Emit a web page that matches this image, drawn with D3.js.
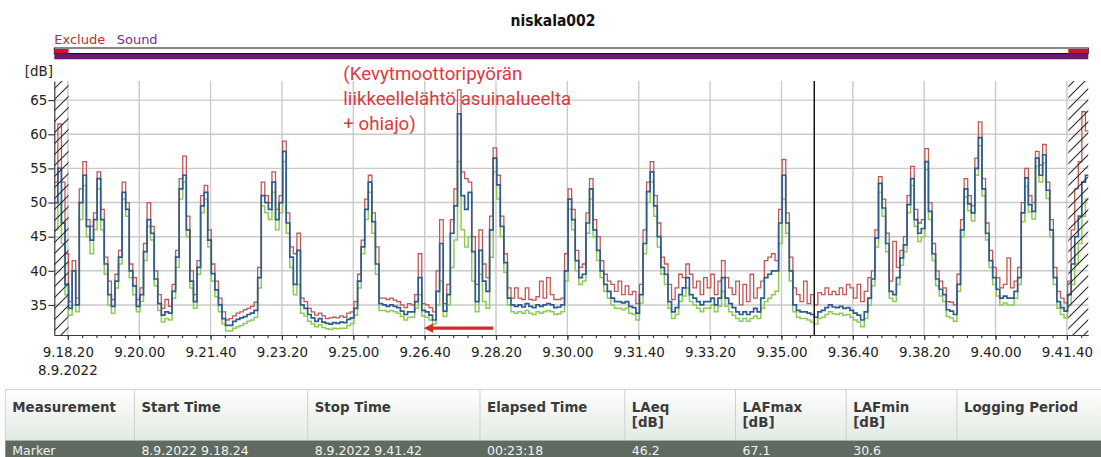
<!DOCTYPE html>
<html>
<head>
<meta charset="utf-8">
<script src="https://cdn.jsdelivr.net/npm/d3@7/dist/d3.min.js"></script>
<style>
    body { margin: 0; background: #fff; }
    svg { display: block; font-family: "DejaVu Sans", Verdana, sans-serif; }
</style>
</head>
<body>
<svg id="chart" width="1101" height="457"></svg>
<script>
// ---- data ----
var chartTitle = 'niskala002';
var timeDomain = ['9.18.01', '9.42.10'];
var levelDomain = [30.6, 67.8];
var levelTicks = [35, 40, 45, 50, 55, 60, 65];
var timeTickLabels = ['9.18.20', '9.20.00', '9.21.40', '9.23.20', '9.25.00', '9.26.40', '9.28.20', '9.30.00',
    '9.31.40', '9.33.20', '9.35.00', '9.36.40', '9.38.20', '9.40.00', '9.41.40'];
var dateLabel = '8.9.2022';
var excludePeriods = [['9.18.01', '9.18.21'], ['9.41.42', '9.42.10']];
var cursorTime = '9.35.46';

// samples every 5 s starting at sampleStart
var sampleStart = '9.18.01';
var sampleStep = 5;

var laeq = [
    50, 55, 47, 38, 34.5, 40, 35, 50, 54, 46.5,
    44.5, 47.5, 53.5, 47.5, 41, 36.5, 34.8, 38.5, 42, 51.5,
    49, 40, 37.8, 34.8, 36.5, 42.8, 47.5, 45.5, 38.8, 35.2,
    33.5, 34, 33.8, 37, 42, 52, 54, 46, 38.5, 35.5,
    40.5, 49.5, 51.5, 44.5, 39.6, 37.2, 35, 33, 32, 32,
    32.6, 32.9, 33.1, 33.3, 33.6, 33.8, 34.2, 39, 51, 50,
    49, 53, 47.5, 50, 57.5, 47, 42, 38, 43, 35,
    34.5, 33.6, 33.1, 32.6, 33, 32.5, 32.3, 32.2, 32.4, 32.3,
    32.5, 32.4, 32.9, 33.1, 34.5, 38.5, 43.5, 49, 53, 47.2,
    41, 35.2, 35, 34.8, 35, 34.8, 34.6, 34.1, 33.6, 34,
    34, 35.5, 39, 34.2, 34, 33.5, 32.8, 37, 44, 34.1,
    36.5, 45.5, 49.5, 63, 51, 49, 51.5, 42.8, 35.5, 43,
    38.5, 37, 46, 56.5, 52.6, 46.5, 41.2, 36, 35, 34.8,
    35, 34.7, 35.2, 34.8, 34.6, 35, 34.8, 35, 35.2, 35,
    34.6, 34.7, 35, 40, 50.5, 47.5, 41.5, 39, 39.5, 47,
    52, 46, 43, 40, 38, 37, 36, 35.5, 35.5, 35.3,
    35.5, 34.8, 34.6, 33.8, 36.5, 44, 51.6, 54.5, 49.5, 45,
    40.5, 39.5, 35.5, 34, 34.6, 36.5, 37.5, 39, 36.5, 36,
    35.5, 35, 35.5, 35.5, 36, 35, 36, 39, 36, 35.2,
    34.6, 34, 33.6, 34, 33.6, 34, 34.5, 34, 36, 39,
    39.5, 40, 40, 47, 54, 47, 40, 35, 34.2, 34,
    34, 33.8, 33.6, 33.2, 34, 34.2, 34.6, 35, 34.7, 34.6,
    34.8, 34.5, 34.6, 34.2, 33.8, 33.5, 32.8, 34, 36, 38.8,
    44.8, 52.8, 49.2, 44, 37, 36.5, 39, 41.9, 43.8, 49.7,
    53.5, 47.5, 45.5, 46.2, 56, 48.7, 42.5, 38.8, 37.3, 36.5,
    34.3, 34.1, 33.6, 38, 46, 52, 49.8, 48.5, 55, 59.5,
    52, 45.5, 41.5, 39, 37.3, 36, 36.3, 36, 36, 37,
    39, 48.5, 53.6, 49.7, 48.7, 56.5, 54, 57, 51.8, 46,
    39, 35.5, 34.6, 34.1, 36.5, 41, 45, 48, 53, 54
];

var lafmax = [
    53, 61.5, 53, 42.5, 35.5, 41.5, 36, 52, 56, 47.5,
    46.5, 48.5, 54.5, 49, 42, 38.5, 35.8, 39.5, 43, 53,
    50, 41, 39, 35.8, 37.5, 44, 50, 46.5, 40, 36.5,
    34.5, 35.8, 34.8, 38, 43, 53.5, 56.8, 48, 40, 36.5,
    41.5, 51, 52.5, 46, 41, 38.5, 36, 34, 32.8, 33,
    33.4, 33.8, 34, 34.3, 34.5, 34.8, 35.4, 40.5, 53, 51,
    50, 54.5, 49, 51, 59, 48.5, 43.5, 42.5, 45.5, 36,
    35.5, 34.5, 34, 33.5, 33.8, 33.4, 33, 33.1, 33.2, 33.1,
    33.4, 33.2, 33.8, 34, 35.5, 39.5, 44.5, 50.5, 54, 48.5,
    43.5, 36, 36, 35.8, 36, 35.7, 35.5, 35, 34.6, 35.2,
    35, 36.5, 42.5, 35.2, 35, 34.6, 34, 40, 47.5, 35.2,
    38, 47.5, 52, 66.5, 54.5, 53.5, 53, 45, 38, 46,
    41, 39, 48, 58, 54, 48, 42.5, 37.5, 36, 37.5,
    36, 35.8, 37.5, 35.8, 35.7, 36.2, 38.5, 36, 39, 36.5,
    35.8, 35.8, 36, 42.5, 52, 49, 43, 40.5, 41, 48.5,
    53.5, 47.5, 45, 41.5, 39.5, 38.5, 38, 37, 38.5, 36.5,
    37.8, 36.5, 37, 35.2, 38, 46, 53, 56, 51, 47,
    42, 41, 38, 35.8, 37.5, 39.5, 39, 41, 39.5, 37.5,
    38.5, 36.5, 39, 37.5, 39.5, 36.5, 38.5, 41.5, 39, 37.5,
    36.5, 38.5, 35, 38, 35.5, 39.5, 36, 37.5, 38.5, 41.5,
    42, 42.5, 41.5, 49, 56.3, 48.5, 42, 37.5, 36.5, 35.5,
    38.5, 35.2, 36.5, 35, 36.8, 36.5, 37.5, 36.5, 37, 36.5,
    37.5, 36.5, 38, 37.5, 36, 38, 35.5, 37, 39, 40,
    46, 53.8, 50.5, 45.5, 38.5, 44.3, 40.5, 43, 45, 51,
    55.3, 49, 47, 47.5, 57.9, 50, 44, 40, 38.5, 37.5,
    35.5, 35.4, 35, 39.5, 47.5, 53.5, 51, 49.5, 56.5, 61.8,
    53.5, 47, 43, 40.5, 39, 37.5, 38, 41.9, 37.5, 38.5,
    40.5, 50, 55, 51, 50, 57.5, 55.5, 58.5, 53, 47.5,
    40.5, 37, 36, 35.3, 38.5, 46, 52, 56, 63.3, 60.5
];

var lafmin = [
    46, 50, 44, 36.5, 33.5, 35, 34, 47.5, 52.5, 45,
    42.5, 46, 52, 46, 39.5, 35, 33.8, 37.5, 41, 50.5,
    48, 39, 36.5, 34, 35.5, 41.5, 46.5, 44.5, 37.8, 34.2,
    32.5, 33, 32.8, 36, 40.5, 50.5, 53, 45, 37.5, 34.5,
    39.5, 48.5, 50.5, 43.5, 38.5, 36.2, 34, 32.2, 31.2, 31.2,
    31.6, 31.8, 32, 32.3, 32.6, 32.8, 33.2, 37.5, 49.5, 48.5,
    47.5, 51.5, 46, 48.5, 56, 45.5, 40.5, 36.5, 38, 33.8,
    33.4, 32.6, 32.2, 31.8, 32.1, 31.7, 31.5, 31.4, 31.6, 31.5,
    31.6, 31.6, 32, 32.3, 33.5, 37.5, 42.5, 47.5, 51.5, 45.5,
    39.5, 34.2, 34.2, 34, 34.2, 34, 33.8, 33.3, 32.8, 33.2,
    33.2, 34.5, 36.5, 33.4, 33.2, 32.8, 32.2, 35, 38.5, 33.3,
    35, 40.5, 44.5, 56, 46, 43.5, 45, 38.5, 34, 39.5,
    35.5, 34.5, 42, 54.5, 50.5, 45, 39.8, 35, 34, 33.8,
    34, 33.8, 34.2, 33.8, 33.6, 34, 33.8, 34, 34.2, 34,
    33.6, 33.7, 34, 38.5, 49, 46, 40, 38, 38.5, 45.5,
    50.5, 45, 41.5, 39, 37, 36, 35, 34.5, 34.5, 34.3,
    34.5, 33.8, 33.6, 32.8, 35.3, 42.5, 50, 53, 48, 43.5,
    39.5, 38, 34.5, 33, 33.6, 35.5, 36.3, 37.5, 35.5, 35,
    34.5, 34, 34.5, 34.5, 35, 34, 34.8, 37, 34.8, 34,
    33.5, 33, 32.6, 33, 32.6, 33, 33.4, 33, 34.5, 35.5,
    36, 36.5, 37, 44, 50.5, 45.5, 38.5, 34, 33.2, 33,
    33, 32.8, 32.5, 32.2, 33, 33.2, 33.6, 34, 33.7, 33.6,
    33.8, 33.5, 33.6, 33.2, 32.8, 32.5, 31.8, 33, 35, 37.8,
    43.5, 51.5, 48, 42.8, 36, 35.5, 38, 40.8, 42.8, 48.5,
    52.5, 46.5, 44.3, 45, 54.8, 47.5, 41.5, 37.8, 36.3, 35.5,
    33.3, 33.1, 32.6, 37, 45, 50.8, 48.8, 47.3, 54, 58.3,
    51, 44.5, 40.5, 38, 36.3, 35, 35.3, 35, 35, 36,
    38, 47.2, 52.4, 48.6, 47.6, 55.3, 53, 55.8, 50.6, 45,
    38, 34.5, 33.6, 33.1, 35, 38, 41, 44, 48, 50.5
];

// annotation (red note + arrow)
var noteLines = ['(Kevytmoottoripyörän', 'liikkeellelähtö asuinalueelta', '+ ohiajo)'];
var noteTime = '9.24.46';
var noteLevel = 67.9;
var arrowFrom = '9.28.16';
var arrowTo = '9.26.44';
var arrowLevel = 31.6;

// table below the chart
var tableHeaders = [['Measurement'], ['Start Time'], ['Stop Time'], ['Elapsed Time'],
    ['LAeq', '[dB]'], ['LAFmax', '[dB]'], ['LAFmin', '[dB]'], ['Logging Period']];
var markerRow = ['Marker', '8.9.2022 9.18.24', '8.9.2022 9.41.42', '00:23:18', '46.2', '67.1', '30.6', ''];


/** turns "9.18.20" into a Date on the measurement day */
function parseClock(s) {
    var p = s.split('.').map(Number);
    return new Date(2022, 8, 8, p[0], p[1], p[2]);
}

/** Class drawing the level-vs-time view. */
class LevelChart {
    constructor() {
        this.svg = d3.select('#chart');
        this.plot = {left: 54.3, right: 1088.3, top: 81, bottom: 335};
        this.x = d3.scaleTime()
            .domain(timeDomain.map(parseClock))
            .range([this.plot.left, this.plot.right]);
        this.y = d3.scaleLinear()
            .domain(levelDomain)
            .range([this.plot.bottom, this.plot.top]);
    }

    drawHeader() {
        var svg = this.svg;
        var x = this.x;

        svg.append('text')
            .attr('x', 553).attr('y', 26)
            .attr('text-anchor', 'middle')
            .style('font-family', '"DejaVu Sans Condensed", "DejaVu Sans", sans-serif')
            .style('font-weight', 'bold')
            .style('font-size', '15.5px')
            .attr('fill', '#111')
            .text(chartTitle);

        svg.append('text').attr('x', 54.3).attr('y', 44)
            .style('font-size', '13px').attr('fill', '#c0302c').text('Exclude');
        svg.append('text').attr('x', 116.7).attr('y', 44)
            .style('font-size', '13px').attr('fill', '#7a2b8c').text('Sound');

        // exclude / sound strip
        svg.append('rect')
            .attr('x', this.plot.left).attr('y', 48)
            .attr('width', this.plot.right - this.plot.left).attr('height', 5.5)
            .attr('fill', '#fff').attr('stroke', '#111').attr('stroke-width', 1);
        svg.selectAll('.excl-bar')
            .data(excludePeriods).enter().append('rect')
            .attr('class', 'excl-bar')
            .attr('x', d => x(parseClock(d[0])))
            .attr('y', 49)
            .attr('width', d => x(parseClock(d[1])) - x(parseClock(d[0])))
            .attr('height', 4.5)
            .attr('fill', '#d0112b');
        svg.append('rect')
            .attr('x', this.plot.left).attr('y', 54)
            .attr('width', this.plot.right - this.plot.left).attr('height', 5.3)
            .attr('fill', '#6a1a6e');
    }

    drawGrid() {
        var p = this.plot;
        var g = this.svg.append('g').attr('class', 'grid');

        g.selectAll('.hgrid')
            .data(levelTicks).enter().append('line')
            .attr('x1', p.left).attr('x2', p.right)
            .attr('y1', d => this.y(d)).attr('y2', d => this.y(d))
            .attr('stroke', '#cacaca').attr('stroke-width', 1.4);

        g.selectAll('.vgrid')
            .data(timeTickLabels.map(parseClock)).enter().append('line')
            .attr('x1', d => this.x(d)).attr('x2', d => this.x(d))
            .attr('y1', p.top).attr('y2', p.bottom)
            .attr('stroke', '#cacaca').attr('stroke-width', 1.4);
    }

    drawSeries() {
        var p = this.plot;
        var x = this.x, y = this.y;
        var t0 = parseClock(sampleStart);

        this.svg.append('clipPath').attr('id', 'plot-clip')
            .append('rect')
            .attr('x', p.left).attr('y', p.top - 4)
            .attr('width', p.right - p.left).attr('height', p.bottom - p.top + 4);

        // time stamp for each sample, plus the end of the last interval
        var toPoints = function (values) {
            var pts = values.map((v, i) => [new Date(+t0 + i * sampleStep * 1000), v]);
            pts.push([new Date(+t0 + values.length * sampleStep * 1000), values[values.length - 1]]);
            return pts;
        };

        var line = d3.line()
            .x(d => x(d[0]))
            .y(d => y(d[1]))
            .curve(d3.curveStepAfter);

        var series = [
            {values: lafmin, color: '#8dcb55', width: 1.5},
            {values: lafmax, color: '#c25653', width: 1.3},
            {values: laeq, color: '#2f5c8e', width: 1.7}
        ];

        this.svg.append('g')
            .attr('clip-path', 'url(#plot-clip)')
            .selectAll('path')
            .data(series).enter().append('path')
            .attr('d', d => line(toPoints(d.values)))
            .attr('fill', 'none')
            .attr('stroke', d => d.color)
            .attr('stroke-width', d => d.width)
            .attr('stroke-linejoin', 'miter');
    }

    drawExcluded() {
        var p = this.plot;
        var x = this.x;
        var pat = this.svg.append('defs').append('pattern')
            .attr('id', 'hatch')
            .attr('patternUnits', 'userSpaceOnUse')
            .attr('width', 11).attr('height', 11);
        pat.append('path')
            .attr('d', 'M0,11 L11,0 M-2,2 L2,-2 M9,13 L13,9')
            .attr('stroke', '#2a2a2a').attr('stroke-width', 1.1);

        this.svg.selectAll('.hatch')
            .data(excludePeriods).enter().append('rect')
            .attr('class', 'hatch')
            .attr('x', d => x(parseClock(d[0])))
            .attr('y', p.top)
            .attr('width', d => x(parseClock(d[1])) - x(parseClock(d[0])))
            .attr('height', p.bottom - p.top)
            .attr('fill', 'url(#hatch)');

        // cursor line
        var cx = x(parseClock(cursorTime));
        this.svg.append('line')
            .attr('x1', cx).attr('x2', cx)
            .attr('y1', p.top).attr('y2', p.bottom)
            .attr('stroke', '#111').attr('stroke-width', 1.5);
    }

    drawAxes() {
        var p = this.plot;
        var x = this.x;
        var svg = this.svg;

        var yAxis = d3.axisLeft(this.y)
            .tickValues(levelTicks)
            .tickSizeInner(6).tickSizeOuter(0).tickPadding(1);
        var gy = svg.append('g')
            .attr('transform', 'translate(' + p.left + ',0)')
            .call(yAxis);

        var minor = d3.timeSecond.every(20).range(x.domain()[0], x.domain()[1]);
        var gm = svg.append('g')
            .attr('transform', 'translate(0,' + p.bottom + ')')
            .call(d3.axisBottom(x).tickValues(minor).tickSize(3).tickFormat(''));
        gm.select('.domain').remove();

        var xAxis = d3.axisBottom(x)
            .tickValues(timeTickLabels.map(parseClock))
            .tickFormat((d, i) => timeTickLabels[i])
            .tickSizeInner(5).tickSizeOuter(0).tickPadding(7);
        var gx = svg.append('g')
            .attr('transform', 'translate(0,' + p.bottom + ')')
            .call(xAxis);

        [gy, gx, gm].forEach(function (g) {
            g.selectAll('path, line').attr('stroke', '#3a3a3a').attr('stroke-width', 1.2);
            g.selectAll('text')
                .style('font-family', '"DejaVu Sans", Verdana, sans-serif')
                .style('font-size', '13.4px')
                .attr('fill', '#222');
        });

        svg.append('text')
            .attr('x', x(parseClock(timeTickLabels[0])))
            .attr('y', 375)
            .attr('text-anchor', 'middle')
            .style('font-size', '13.4px').attr('fill', '#222')
            .text(dateLabel);

        svg.append('text')
            .attr('x', 53).attr('y', 76)
            .attr('text-anchor', 'end')
            .style('font-size', '13.4px').attr('fill', '#222')
            .text('[dB]');
    }

    drawNote() {
        var x = this.x, y = this.y;
        var nx = x(parseClock(noteTime));
        var note = this.svg.append('g')
            .style('font-family', 'Roboto, "Open Sans", sans-serif')
            .style('font-size', '17px')
            .attr('fill', '#dc3a3c');

        note.selectAll('text')
            .data(noteLines).enter().append('text')
            .attr('x', nx)
            .attr('y', (d, i) => y(noteLevel) + i * 24.7)
            .text(d => d);

        // fit the longest line to the width seen in the picture
        var len = note.selectAll('text').nodes()[1].getComputedTextLength();
        note.style('font-size', (17 * 228 / len) + 'px');

        var defs = this.svg.append('defs');
        defs.append('marker')
            .attr('id', 'arrowhead')
            .attr('viewBox', '0 0 10 10')
            .attr('refX', 6).attr('refY', 5)
            .attr('markerWidth', 3).attr('markerHeight', 3)
            .attr('orient', 'auto')
            .append('path').attr('d', 'M0,0 L10,5 L0,10 z').attr('fill', '#d42a2a');

        this.svg.append('line')
            .attr('x1', x(parseClock(arrowFrom))).attr('x2', x(parseClock(arrowTo)))
            .attr('y1', y(arrowLevel)).attr('y2', y(arrowLevel))
            .attr('stroke', '#d42a2a').attr('stroke-width', 3.2)
            .attr('marker-end', 'url(#arrowhead)');
    }

    drawTable() {
        var svg = this.svg;
        var colX = [5.3, 134.4, 307.7, 480, 624.8, 735.5, 846.2, 956.9];
        var top = 389.5, headBottom = 440.5;

        var grad = svg.append('defs').append('linearGradient')
            .attr('id', 'headgrad').attr('x1', 0).attr('y1', 0).attr('x2', 0).attr('y2', 1);
        grad.append('stop').attr('offset', '0%').attr('stop-color', '#ffffff');
        grad.append('stop').attr('offset', '100%').attr('stop-color', '#e2e9e2');

        svg.append('rect')
            .attr('x', colX[0]).attr('y', top)
            .attr('width', 1101 - colX[0]).attr('height', headBottom - top)
            .attr('fill', 'url(#headgrad)');
        svg.append('line')
            .attr('x1', colX[0]).attr('x2', 1101)
            .attr('y1', top).attr('y2', top)
            .attr('stroke', '#cdd5cd');
        svg.selectAll('.colsep')
            .data(colX).enter().append('line')
            .attr('x1', d => d).attr('x2', d => d)
            .attr('y1', top).attr('y2', headBottom)
            .attr('stroke', '#cbd3cb');

        svg.append('rect')
            .attr('x', colX[0]).attr('y', headBottom)
            .attr('width', 1101 - colX[0]).attr('height', 457 - headBottom)
            .attr('fill', '#5f6b61');

        var head = svg.append('g')
            .style('font-weight', 'bold').style('font-size', '13.4px').attr('fill', '#3b3b3b');
        tableHeaders.forEach(function (lines, c) {
            lines.forEach(function (s, r) {
                head.append('text')
                    .attr('x', colX[c] + 7).attr('y', 412 + r * 14.5)
                    .text(s);
            });
        });

        svg.append('g')
            .style('font-size', '12.5px').attr('fill', '#f2f2f2')
            .selectAll('text')
            .data(markerRow).enter().append('text')
            .attr('x', (d, i) => colX[i] + 7)
            .attr('y', 455)
            .text(d => d);
    }
}

var chart = new LevelChart();
chart.drawHeader();
chart.drawGrid();
chart.drawSeries();
chart.drawExcluded();
chart.drawAxes();
chart.drawNote();
chart.drawTable();
</script>
</body>
</html>
